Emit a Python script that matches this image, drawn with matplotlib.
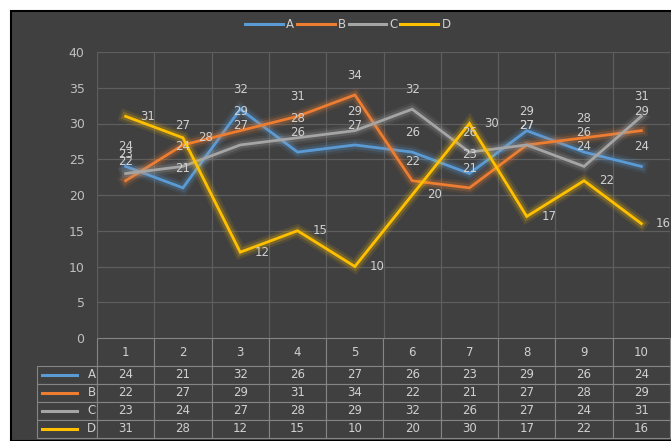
import matplotlib
matplotlib.use("Agg")
import matplotlib.pyplot as plt
import matplotlib.patheffects as pe
from matplotlib.patches import Rectangle
from matplotlib.lines import Line2D

cats = [1, 2, 3, 4, 5, 6, 7, 8, 9, 10]
series_names = ["A", "B", "C", "D"]
a_vals = [24, 21, 32, 26, 27, 26, 23, 29, 26, 24]
b_vals = [22, 27, 29, 31, 34, 22, 21, 27, 28, 29]
c_vals = [23, 24, 27, 28, 29, 32, 26, 27, 24, 31]
d_vals = [31, 28, 12, 15, 10, 20, 30, 17, 22, 16]
colors = ["#5b9bd5", "#ed7d31", "#a5a5a5", "#ffc000"]

bg = "#404040"
txt = "#d0d0d0"
grid_c = "#5e5e5e"

W, H = 671, 441
fig = plt.figure(figsize=(W / 100, H / 100), dpi=100, facecolor="white")
# dark chart panel with thin black frame
fig.patches.append(Rectangle((11 / W, 0), 1, (H - 11) / H, transform=fig.transFigure,
                             facecolor=bg, edgecolor="black", linewidth=1.5, zorder=-10))

ax = fig.add_axes([97 / W, 1 - 338 / H, 573 / W, 286 / H])
ax.set_facecolor(bg)
ax.set_xlim(0.5, 10.5)
ax.set_ylim(0, 40)
ax.set_yticks(range(0, 41, 5))
ax.set_xticks([])
ax.tick_params(axis="y", length=0, pad=9, labelcolor="#bfbfbf", labelsize=9)
for s in ax.spines.values():
    s.set_visible(False)
for y in range(5, 41, 5):
    ax.axhline(y, color=grid_c, lw=0.9, zorder=1)
for i in range(len(cats) + 1):
    ax.axvline(0.5 + i, color=grid_c, lw=0.9, zorder=1)

all_vals = [a_vals, b_vals, c_vals, d_vals]
for name, vals, col in zip(series_names, all_vals, colors):
    ln, = ax.plot(cats, vals, color=col, lw=2.0, label=name, zorder=3,
                  solid_joinstyle="miter")
    ln.set_path_effects([pe.Stroke(linewidth=9, foreground=col, alpha=0.1),
                         pe.Stroke(linewidth=5.5, foreground=col, alpha=0.22),
                         pe.Normal()])
    for x, v in zip(cats, vals):
        if name == "D":
            ax.annotate(str(v), (x, v), xytext=(16, 0), textcoords="offset points",
                        ha="center", va="center", color=txt, fontsize=8.5, zorder=5)
        else:
            ax.annotate(str(v), (x, v), xytext=(0, 14), textcoords="offset points",
                        ha="center", va="center", color=txt, fontsize=8.5, zorder=5)

# data table under the plot
cell_text = [[n] + [str(v) for v in vals] for n, vals in zip(series_names, all_vals)]
col_labels = [""] + [str(c) for c in cats]
lab_w = 60 / 573
col_w = 57.3 / 573
tbl = ax.table(cellText=cell_text, colLabels=col_labels,
               colWidths=[lab_w] + [col_w] * len(cats),
               cellLoc="center", bbox=[-lab_w, -100 / 286, 1 + lab_w, 100 / 286])
tbl.auto_set_font_size(False)
tbl.set_fontsize(8.5)
for (r, c), cell in tbl.get_celld().items():
    cell.set_facecolor(bg)
    cell.set_edgecolor("#858585")
    cell.set_linewidth(0.8)
    cell.get_text().set_color(txt)
    if r == 0:
        cell.set_height(28)
    else:
        cell.set_height(18)
    if r == 0 and c == 0:
        cell.visible_edges = ""
    if c == 0 and r > 0:
        cell.get_text().set_ha("right")
        cell._loc = "right"
        cell.PAD = 0.02

# legend keys inside the table row labels
for i, col in enumerate(colors):
    yc = -(28 + 18 * i + 9) / 286
    ax.add_line(Line2D([-55 / 573, -20 / 573], [yc, yc], transform=ax.transAxes,
                       color=col, lw=2.2, clip_on=False, zorder=6))

handles = [Line2D([], [], color=c, lw=2.2) for c in colors]
fig.legend(handles, series_names, loc="center", bbox_to_anchor=(348 / W, 1 - 25 / H),
           ncol=4, frameon=False, fontsize=8.5, labelcolor=txt, handlelength=3.2,
           handletextpad=0.3, columnspacing=0.2)

fig.savefig("out.png", dpi=100, facecolor="white")
